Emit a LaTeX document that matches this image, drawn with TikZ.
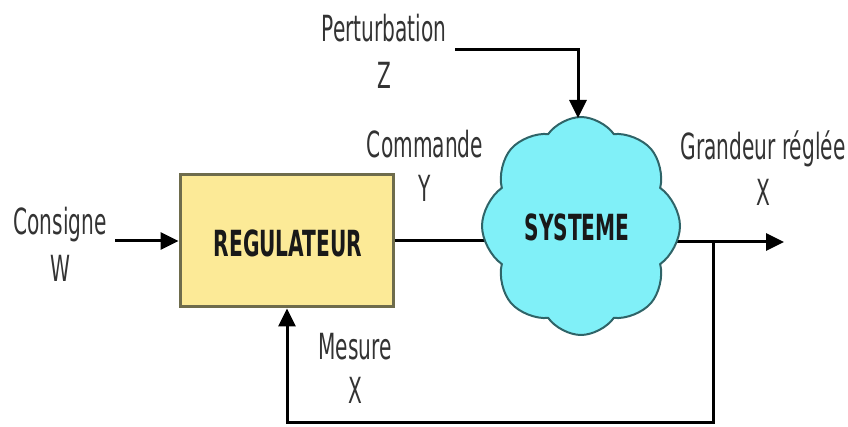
\documentclass[tikz,border=0pt]{standalone}
\usepackage{fontspec}
\setmainfont{DejaVu Sans}[FakeStretch=0.56]
\usetikzlibrary{arrows.meta,shapes.symbols}
\definecolor{regfill}{HTML}{FCEA97}
\definecolor{regdraw}{HTML}{6E6C4C}
\definecolor{sysfill}{HTML}{80F0F8}
\definecolor{sysdraw}{HTML}{2F6468}
\definecolor{txt}{HTML}{333333}
\tikzset{
  lbl/.style={text=txt, font=\fontsize{18}{21}\selectfont, inner sep=0pt},
  boldlbl/.style={text=black!90, font=\fontsize{18}{21}\selectfont\bfseries, inner sep=0pt},
  wire/.style={line width=1.5pt, black},
  arr/.style={wire, -{Triangle[length=9pt,width=8.5pt]}},
}
\begin{document}
\begin{tikzpicture}[x=0.5pt,y=-0.5pt]
\useasboundingbox (0,0) rectangle (848,427);
% coordinates
\coordinate (sysc) at (581,226);
\coordinate (pstart) at (455,50);
\coordinate (pturn) at (578,50);
\coordinate (ptip) at (578,118);
\coordinate (outtip) at (784,242);
\coordinate (branch) at (713,242);
\coordinate (fbr) at (713,423);
\coordinate (fbl) at (287,423);
\coordinate (cinstart) at (115,241);
% regulator box
\node[draw=regdraw, line width=1.5pt, fill=regfill, minimum width=106.5pt, minimum height=66pt, inner sep=0pt] (reg) at (286.5,241) {};
\node[boldlbl] (regt) at (288,243) {REGULATEUR};
% wires behind the cloud
\draw[wire] (reg.east) -- (reg.east -| sysc);
\draw[arr] (sysc |- outtip) -- (outtip);
% cloud
\node[cloud, cloud puffs=8, cloud puff arc=110, aspect=0.9, draw=sysdraw, line width=1pt, fill=sysfill, minimum width=99pt, minimum height=109pt, inner sep=0pt, shape border rotate=0] (sys) at (sysc) {};
\node[boldlbl] (syst) at (577,227) {SYSTEME};
% arrows
\draw[arr] (cinstart) -- (reg.west);
\draw[arr] (pstart) -- (pturn) -- (ptip);
\draw[arr] (branch) -- (fbr) -- (fbl) -- (fbl |- reg.south);
% labels
\node[lbl] (cons) at (60,225) {Consigne};
\node[lbl] (w) at (60,268) {W};
\node[lbl] (pert) at (384,28) {Perturbation};
\node[lbl] (z) at (384,75) {Z};
\node[lbl] (cmd) at (425,144) {Commande};
\node[lbl] (y) at (425,188) {Y};
\node[lbl] (gr) at (763,149) {Grandeur réglée};
\node[lbl] (x1) at (763,192) {X};
\node[lbl] (mes) at (355,347) {Mesure};
\node[lbl] (x2) at (355,390) {X};
\end{tikzpicture}
\end{document}
